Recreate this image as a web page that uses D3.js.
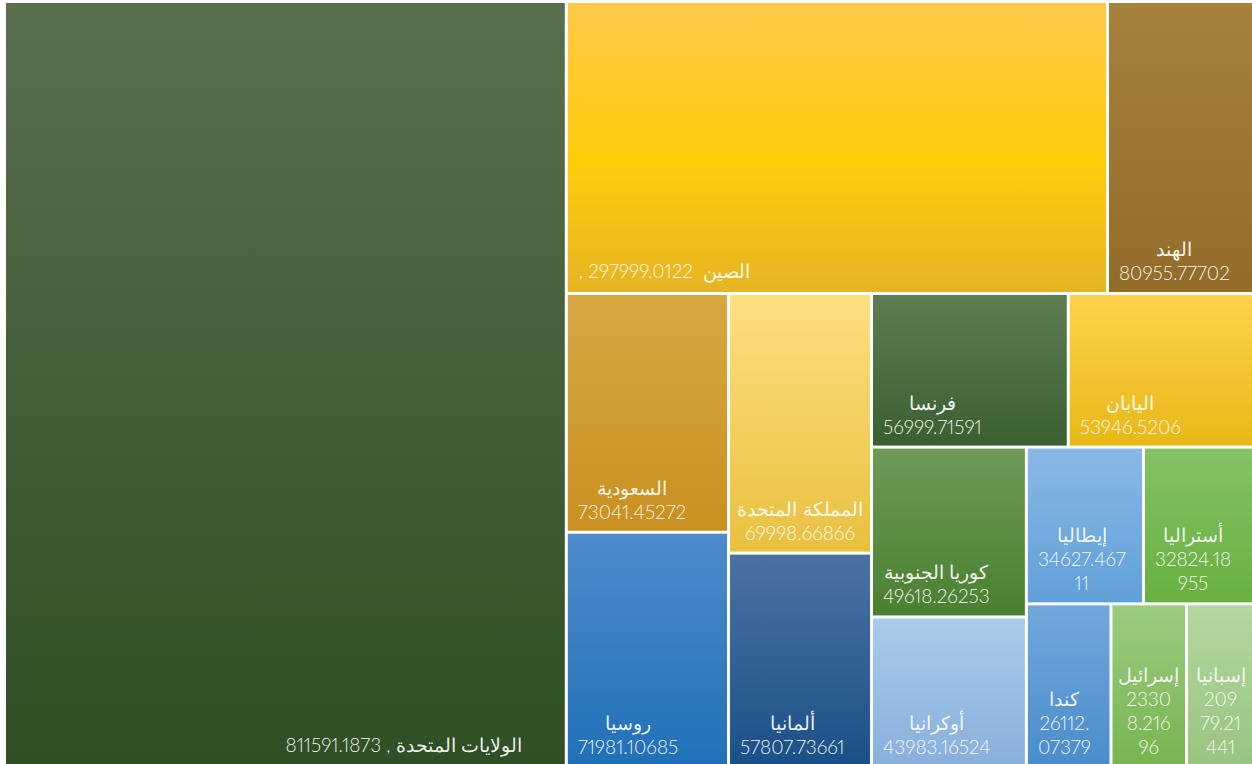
<!DOCTYPE html>
<html lang="ar">
<head>
<meta charset="utf-8">
<title>Treemap</title>
<script src="https://cdn.jsdelivr.net/npm/d3@7/dist/d3.min.js"></script>
<style>
  html, body { margin: 0; padding: 0; background: #ffffff; }
  svg { display: block; }
  text { white-space: pre; font-variant-numeric: proportional-nums; }
</style>
</head>
<body>
<svg id="chart" width="1252" height="764"></svg>
<script>
// Countries and their values, largest first
const names = ["الولايات المتحدة", "الصين", "الهند", "السعودية", "روسيا", "المملكة المتحدة",
  "ألمانيا", "فرنسا", "اليابان", "كوريا الجنوبية", "أوكرانيا", "إيطاليا", "أستراليا",
  "كندا", "إسرائيل", "إسبانيا"];
const values = [811591.1873, 297999.0122, 80955.77702, 73041.45272, 71981.10685, 69998.66866,
  57807.73661, 56999.71591, 53946.5206, 49618.26253, 43983.16524, 34627.46711, 32824.18955,
  26112.07379, 23308.21696, 20979.21441];

// Vertical gradient colours per tile (top, optional middle, bottom)
const topColors = ["#5b6f4f", "#ffc948", "#a6823e", "#d8a842", "#4e8cca", "#ffdf80", "#4c72a2",
  "#5e7c52", "#ffd24c", "#6e9a58", "#aacbea", "#8ab8e6", "#84c264", "#72a8dc", "#9ccc80", "#b4d8a0"];
const bottomColors = ["#2f4f24", "#e6b424", "#936c28", "#c99020", "#2070b8", "#e8c040", "#1a5088",
  "#3a6030", "#e8b818", "#4a8030", "#88b0dc", "#60a0d8", "#68b040", "#4a8ccc", "#78b450", "#98c480"];
const midColors = [null, "#ffcc0a", null, null, null, null, null, null, null, null, null, null,
  null, null, null, null];

// Number of tiles placed in each strip of the layout
const stripSizes = [1, 2, 2, 2, 2, 2, 2, 3];

const X0 = 6, Y0 = 3, W = 1247, H = 763;
const fontSize = 19, lineH = 24;

// Strip tiling: each strip runs along the shorter side of the space left,
// the closing strip along the longer side.
function stripTile(parent, x0, y0, x1, y1) {
  const nodes = parent.children;
  let remaining = parent.value;
  let i = 0;
  stripSizes.forEach((count, s) => {
    const strip = nodes.slice(i, i + count);
    i += count;
    const sum = d3.sum(strip, d => d.value);
    const dx = x1 - x0, dy = y1 - y0;
    const last = s === stripSizes.length - 1;
    const horizontal = last ? dx >= dy : dx < dy;
    const row = { value: sum, children: strip };
    if (horizontal) {
      const yb = last ? y1 : y0 + dy * sum / remaining;
      d3.treemapDice(row, x0, y0, x1, yb);
      y0 = yb;
    } else {
      const xb = last ? x1 : x0 + dx * sum / remaining;
      d3.treemapSlice(row, x0, y0, xb, y1);
      x0 = xb;
    }
    remaining -= sum;
  });
}

const svg = d3.select("#chart");
const defs = svg.append("defs");

const rows = names.map((n, i) => ({ name: n, value: values[i], idx: i }));
const root = d3.hierarchy({ children: rows })
  .sum(d => d.value || 0)
  .sort((a, b) => b.value - a.value);

d3.treemap()
  .tile(stripTile)
  .size([W, H])
  .paddingInner(3)(root);

const leaves = root.leaves();

leaves.forEach(d => {
  const g = defs.append("linearGradient")
    .attr("id", "grad" + d.data.idx)
    .attr("x1", 0).attr("y1", 0).attr("x2", 0).attr("y2", 1);
  g.append("stop").attr("offset", "0%").attr("stop-color", topColors[d.data.idx]);
  if (midColors[d.data.idx]) {
    g.append("stop").attr("offset", "55%").attr("stop-color", midColors[d.data.idx]);
  }
  g.append("stop").attr("offset", "100%").attr("stop-color", bottomColors[d.data.idx]);
});

const plot = svg.append("g").attr("transform", `translate(${X0},${Y0})`);

plot.selectAll("rect.tile")
  .data(leaves)
  .join("rect")
  .attr("class", "tile")
  .attr("x", d => d.x0)
  .attr("y", d => d.y0)
  .attr("width", d => d.x1 - d.x0)
  .attr("height", d => d.y1 - d.y0)
  .attr("fill", d => `url(#grad${d.data.idx})`);

// Text measurement helper
const measurer = plot.append("text")
  .attr("font-family", "Lato, 'DejaVu Sans', sans-serif")
  .attr("font-weight", 300)
  .attr("font-size", fontSize)
  .style("visibility", "hidden");
function textWidth(s) {
  measurer.text(s);
  return measurer.node().getComputedTextLength();
}

// Break a number string into chunks that fit the tile width
function wrapChars(str, maxW) {
  const out = [];
  let cur = "";
  for (const ch of str) {
    if (cur && textWidth(cur + ch) > maxW) {
      out.push(cur);
      cur = ch;
    } else {
      cur += ch;
    }
  }
  if (cur) out.push(cur);
  return out;
}

const labels = plot.append("g")
  .attr("font-family", "Lato, 'DejaVu Sans', sans-serif")
  .attr("font-weight", 300)
  .attr("font-size", fontSize)
  .attr("fill", "#ffffff")
  .attr("fill-opacity", 0.93);

leaves.forEach(d => {
  const tw = d.x1 - d.x0;
  const valStr = String(d.data.value);
  if (tw > 500) {
    // wide tiles carry the name and value on one line
    const fullHeight = d.y1 - d.y0 > H * 0.9;
    const s = fullHeight ? `${d.data.name} , ${valStr}` : `${d.data.name}  ${valStr} ,`;
    const wid = textWidth(s);
    const cx = fullHeight ? d.x1 - 43 - wid / 2 : d.x0 + 11 + wid / 2;
    labels.append("text")
      .attr("direction", "rtl")
      .attr("text-anchor", "middle")
      .attr("x", cx)
      .attr("y", d.y1 - 14)
      .text(s);
    return;
  }
  const lines = [d.data.name].concat(wrapChars(valStr, tw - 22));
  const widths = lines.map(textWidth);
  const blockW = d3.max(widths);
  const left = blockW <= tw - 20 ? d.x0 + 10 : d.x0 + (tw - blockW) / 2;
  const cx = left + blockW / 2;
  const n = lines.length;
  lines.forEach((ln, i) => {
    labels.append("text")
      .attr("direction", i === 0 ? "rtl" : "ltr")
      .attr("text-anchor", "middle")
      .attr("x", cx)
      .attr("y", d.y1 - 12 - (n - 1 - i) * lineH)
      .text(ln);
  });
});
measurer.remove();
</script>
</body>
</html>
